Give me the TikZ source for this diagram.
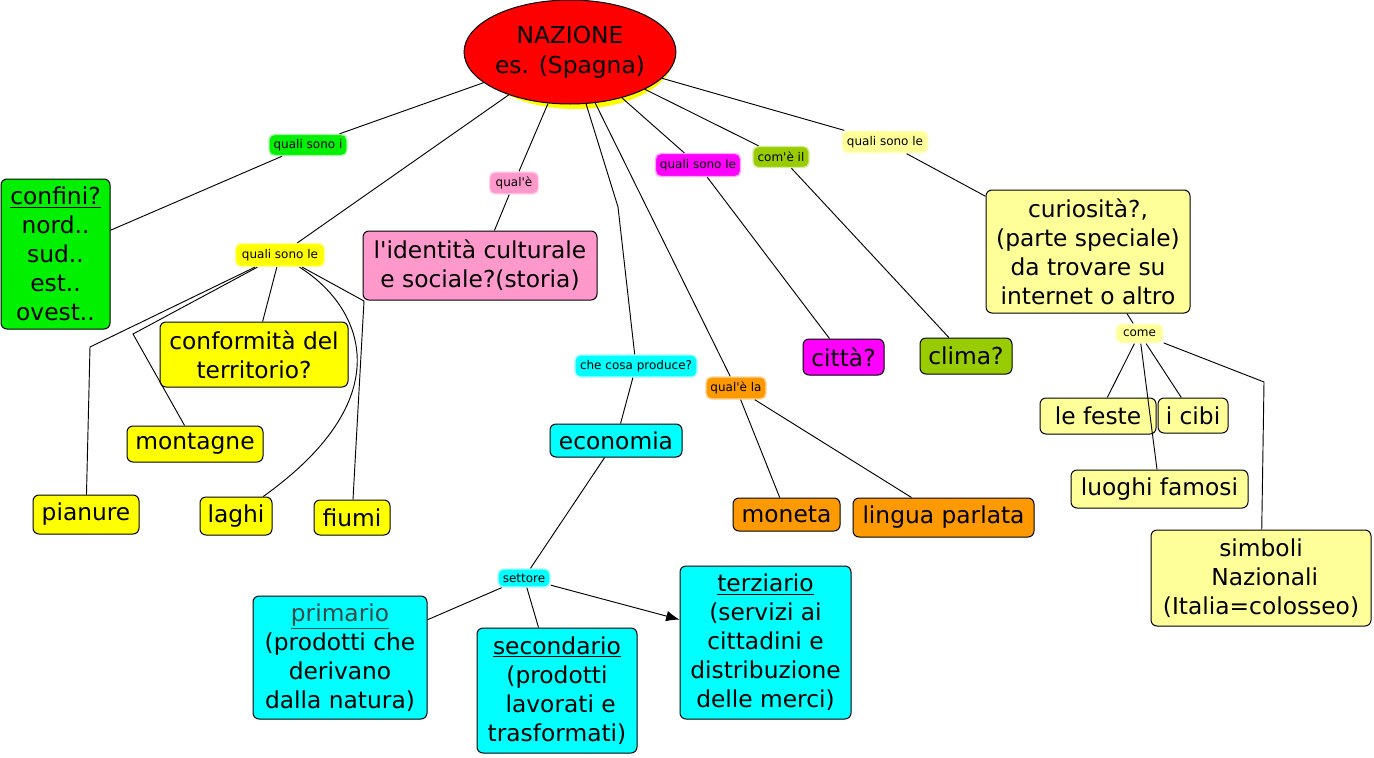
\documentclass[tikz,border=0pt]{standalone}
\usepackage{fontspec}
\newfontfamily\dvs{DejaVu Sans}
\usetikzlibrary{shapes.geometric,arrows.meta}
\definecolor{cgreen}{HTML}{00F000}
\definecolor{cyel}{HTML}{FFFF00}
\definecolor{cpink}{HTML}{FF99CC}
\definecolor{ccyan}{HTML}{00FFFF}
\definecolor{cmag}{HTML}{FF00FF}
\definecolor{colive}{HTML}{99CC00}
\definecolor{corange}{HTML}{FF9900}
\definecolor{clyel}{HTML}{FFFF99}
\definecolor{cred}{HTML}{FF0000}
\definecolor{cprim}{HTML}{3A4A4A}
\begin{document}
\begin{tikzpicture}[x=0.75pt,y=-0.75pt,
  sz/.style 2 args={minimum width=#1*0.75pt, minimum height=#2*0.75pt},
  box/.style={draw=black, line width=0.75pt, rounded corners=4.5pt, inner sep=0pt, align=center, font=\dvs\fontsize{17.5pt}{21.7pt}\selectfont, text=black},
  lbl/.style={rounded corners=4pt, inner sep=0pt, align=center, font=\dvs\fontsize{9pt}{11pt}\selectfont, text=black, line width=1pt},
  link/.style={draw=black, line width=0.7pt},
]
\fill[white] (0,0) rectangle (1374,757);
\useasboundingbox (0,0) rectangle (1374,757);

% central node
\node[ellipse, fill=cyel, sz={196}{104}] (nazshadow) at (575,57) {};
\node[ellipse, draw=black, line width=0.75pt, fill=cred, sz={196}{104}, inner sep=0pt, align=center, font=\dvs\fontsize{17.5pt}{22.5pt}\selectfont] (naz) at (570,52) {NAZIONE\\es. (Spagna)};

% linking labels
\node[lbl, fill=cgreen, draw=cgreen!35, sz={78}{21}] (lconf) at (308,145) {quali sono i};
\node[lbl, fill=cyel, draw=cyel!40, sz={89}{23}] (lterr) at (280,255) {quali sono le};
\node[lbl, fill=cpink, draw=cpink!40, sz={49}{22}] (lid) at (514,183) {qual'è};
\node[lbl, fill=ccyan, draw=ccyan!35, sz={122}{22}] (lprod) at (636,366) {che cosa produce?};
\node[lbl, fill=cmag, draw=cmag!35, sz={85}{23}] (lcit) at (698,165) {quali sono le};
\node[lbl, fill=colive, draw=colive!40, sz={56}{21}] (lclim) at (781,157) {com'è il};
\node[lbl, fill=clyel, draw=clyel!40, sz={86}{22}] (lcur) at (885,142) {quali sono le};
\node[lbl, fill=clyel, draw=clyel!40, sz={47}{19}] (lcome) at (1139.5,333.5) {come};
\node[lbl, fill=corange, draw=corange!40, sz={60}{22}] (lmon) at (736,388) {qual'è la};
\node[lbl, fill=ccyan, draw=ccyan!35, sz={52}{18}] (lsett) at (524,578) {settore};

% concept boxes
\node[box, fill=cgreen, sz={109}{150}] (confini) at (55.5,254) {\underline{confini?}\\nord..\\sud..\\est..\\ovest..};
\node[box, fill=cpink, sz={234}{69}] (ident) at (480,265.5) {l'identità culturale\\e sociale?(storia)};
\node[box, fill=clyel, sz={204}{123}] (curio) at (1088,251.5) {curiosità?,\\(parte speciale)\\da trovare su\\internet o altro};
\node[box, fill=cmag, sz={81}{36}] (citta) at (843.5,357) {città?};
\node[box, fill=colive, sz={92}{36}] (clima) at (966,356) {clima?};
\node[box, fill=clyel, sz={116}{36}] (feste) at (1098,416) {le feste};
\node[box, fill=clyel, sz={70}{35}] (cibi) at (1193,415.5) {i cibi};
\node[box, fill=clyel, sz={177}{38}] (luoghi) at (1159.5,489) {luoghi famosi};
\node[box, fill=clyel, sz={220}{96}] (simboli) at (1261,578) {simboli\\\ Nazionali\\(Italia=colosseo)};
\node[box, fill=cyel, sz={188}{65}] (conf) at (254,354.5) {conformità del\\territorio?};
\node[box, fill=cyel, sz={136}{36}] (mont) at (195,444) {montagne};
\node[box, fill=cyel, sz={106}{39}] (pian) at (86,514.5) {pianure};
\node[box, fill=cyel, sz={72}{38}] (laghi) at (236,516) {laghi};
\node[box, fill=cyel, sz={76}{35}] (fiumi) at (352,517.5) {fiumi};
\node[box, fill=ccyan, sz={132}{33}] (econ) at (616,440.5) {economia};
\node[box, fill=corange, sz={107}{33}] (moneta) at (786.5,514.5) {moneta};
\node[box, fill=corange, sz={181}{39}] (lingua) at (943.5,517.5) {lingua parlata};
\node[box, fill=ccyan, sz={174}{123}] (prim) at (340,657.5) {\textcolor{cprim}{\underline{primario}}\\(prodotti che\\derivano\\dalla natura)};
\node[box, fill=ccyan, sz={160}{125}] (sec) at (557,690.5) {\underline{secondario}\\(prodotti\\\ lavorati e\\trasformati)};
\node[box, fill=ccyan, sz={171}{153}] (terz) at (765.5,642.5) {\underline{terziario}\\(servizi ai\\cittadini e\\distribuzione\\delle merci)};

% bend points
\coordinate (bpian) at (90,347);
\coordinate (bmont) at (133,334);
\coordinate (bfiu) at (364,301);
\coordinate (bprod) at (618,207);
\coordinate (bsimb) at (1264,382);

% connectors
\draw[link] (naz) -- (lconf);
\draw[link] (lconf) -- (confini);
\draw[link] (naz) -- (lterr);
\draw[link] (lterr) -- (bpian) -- (pian);
\draw[link] (lterr) -- (bmont) -- (mont);
\draw[link] (lterr) -- (conf);
\draw[link] (lterr) .. controls (360,305) and (405,395) .. (laghi);
\draw[link] (lterr) -- (bfiu) -- (fiumi);
\draw[link] (naz) -- (lid);
\draw[link] (lid) -- (ident);
\draw[link] (naz) -- (bprod) -- (lprod);
\draw[link] (lprod) -- (econ);
\draw[link] (naz) -- (lmon);
\draw[link] (lmon) -- (moneta);
\draw[link] (lmon) -- (lingua);
\draw[link] (econ) -- (lsett);
\draw[link] (lsett) -- (prim);
\draw[link] (lsett) -- (sec);
\draw[link, -{Latex[length=10pt,width=8pt]}] (lsett) -- (terz);
\draw[link] (naz) -- (lcit);
\draw[link] (lcit) -- (citta);
\draw[link] (naz) -- (lclim);
\draw[link] (lclim) -- (clima);
\draw[link] (naz) -- (lcur);
\draw[link] (lcur) -- (curio);
\draw[link] (curio) -- (lcome);
\draw[link] (lcome) -- (feste);
\draw[link] (lcome) -- (cibi);
\draw[link] (lcome) -- (luoghi);
\draw[link] (lcome) -- (bsimb) -- (simboli);
\end{tikzpicture}
\end{document}
